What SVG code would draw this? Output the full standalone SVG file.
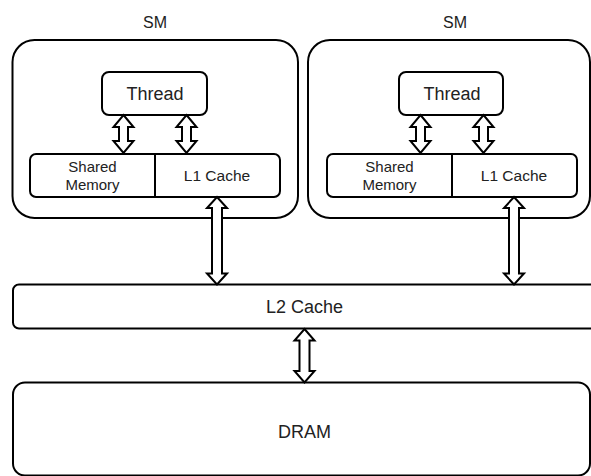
<svg xmlns="http://www.w3.org/2000/svg" width="591" height="476" viewBox="0 0 591 476">
<style>
.box{fill:#fff;stroke:#000;stroke-width:2}
.arr{fill:#fff;stroke:#000;stroke-width:2;stroke-linejoin:miter}
.div{stroke:#000;stroke-width:2}
text{font-family:"Liberation Sans",Arial,sans-serif;fill:#222;text-anchor:middle}
.lbl{font-size:16px}
.big{font-size:18px}
.mid{font-size:15.5px}
.sm{font-size:15px}
</style>
<rect width="591" height="476" fill="#fff"/>
<g id="sm-left">
<text class="lbl" x="155" y="28">SM</text>
<rect class="box" x="12.5" y="40" width="285.5" height="178" rx="22"/>
</g>
<g id="sm-right">
<text class="lbl" x="455" y="28">SM</text>
<rect class="box" x="308" y="40" width="282" height="178" rx="22"/>
</g>
<g id="thread-left">
<rect class="box" x="102" y="72" width="105" height="43" rx="7"/>
<text class="big" x="155" y="100">Thread</text>
</g>
<g id="thread-right">
<rect class="box" x="399" y="72" width="104" height="43" rx="7"/>
<text class="big" x="452" y="100">Thread</text>
</g>
<g id="mem-left">
<rect class="box" x="30" y="154" width="250" height="43" rx="6"/>
<line class="div" x1="155" y1="154" x2="155" y2="197"/>
<text class="sm" x="92.5" y="171.5">Shared</text>
<text class="sm" x="92.5" y="190">Memory</text>
<text class="mid" x="217" y="180.5">L1 Cache</text>
</g>
<g id="mem-right">
<rect class="box" x="327" y="154" width="250" height="43" rx="6"/>
<line class="div" x1="452" y1="154" x2="452" y2="197"/>
<text class="sm" x="389.5" y="171.5">Shared</text>
<text class="sm" x="389.5" y="190">Memory</text>
<text class="mid" x="514" y="180.5">L1 Cache</text>
</g>
<g id="l2">
<rect class="box" x="13" y="284.5" width="590" height="44" rx="6"/>
<text class="big" x="304.5" y="313">L2 Cache</text>
</g>
<g id="dram">
<rect class="box" x="13" y="382.5" width="577" height="93" rx="12"/>
<text class="big" x="304.5" y="438">DRAM</text>
</g>
<g id="connectors">
<polygon class="arr" points="123.5,115 133.5,127 128,127 128,141 133.5,141 123.5,153 113.5,141 119,141 119,127 113.5,127"/>
<polygon class="arr" points="186.5,115 196.5,127 191,127 191,141 196.5,141 186.5,153 176.5,141 182,141 182,127 176.5,127"/>
<polygon class="arr" points="420.5,115 430.5,127 425,127 425,141 430.5,141 420.5,153 410.5,141 416,141 416,127 410.5,127"/>
<polygon class="arr" points="483.5,115 493.5,127 488,127 488,141 493.5,141 483.5,153 473.5,141 479,141 479,127 473.5,127"/>
<polygon class="arr" points="217,197 227,208 222,208 222,273.5 227,273.5 217,284.5 207,273.5 212,273.5 212,208 207,208"/>
<polygon class="arr" points="514,197 524,208 519,208 519,273.5 524,273.5 514,284.5 504,273.5 509,273.5 509,208 504,208"/>
<polygon class="arr" points="304.5,329 314.5,340.5 309.5,340.5 309.5,371 314.5,371 304.5,382.5 294.5,371 299.5,371 299.5,340.5 294.5,340.5"/>
</g>
</svg>
